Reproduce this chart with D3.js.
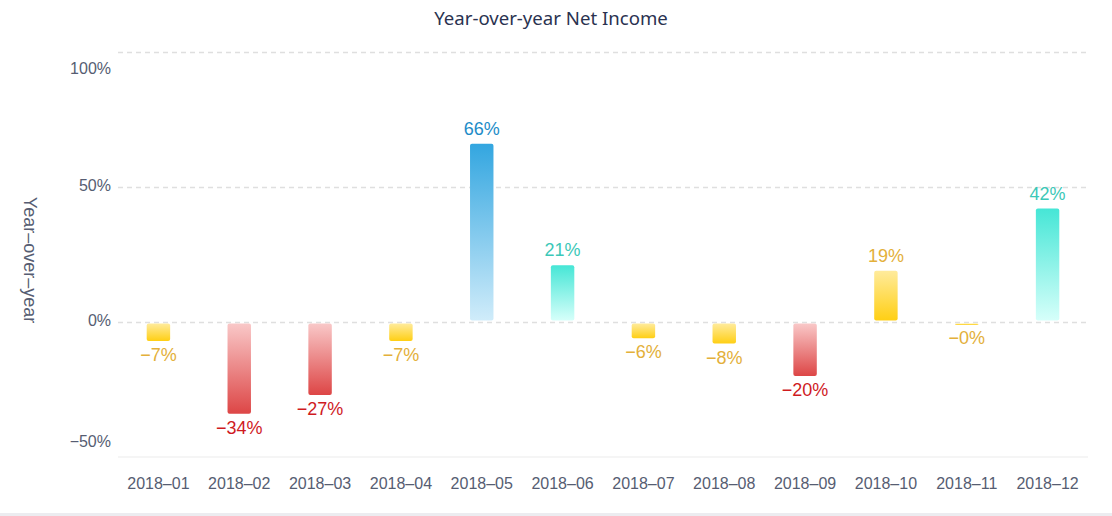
<!DOCTYPE html>
<html><head><meta charset="utf-8">
<script src="https://cdn.jsdelivr.net/npm/d3@7"></script>
<style>
html,body{margin:0;padding:0;background:#fff;}
svg{display:block;}
</style></head>
<body>
<svg id="chart" width="1112" height="516"></svg>
<script>
const months = ["2018–01","2018–02","2018–03","2018–04","2018–05","2018–06","2018–07","2018–08","2018–09","2018–10","2018–11","2018–12"];
const yoyValues = [-7,-34,-27,-7,66,21,-6,-8,-20,19,-0.4,42];
const yTicks = [-50,0,50,100];
const chartTitle = "Year-over-year Net Income";
const yTitle = "Year–over–year";

(function(){
const W=1112,H=516;
const svg=d3.select("#chart");
const pL=118,pR=1088,pT=52,pB=457;
const x=d3.scaleBand().domain(months).range([pL,pR]);
const y=d3.scaleLinear().domain([-50,100]).range([pB,pT]);
const FONT="'Liberation Sans', Arial, sans-serif";

const palettes={
  red:{top:"#f9c8c8",bot:"#dd4646",text:"#cf1b1f"},
  yellow:{top:"#ffeb9c",bot:"#ffcf14",text:"#e3b03a"},
  teal:{top:"#46e6d6",bot:"#d6fffa",text:"#3cc8b8"},
  blue:{top:"#33a6e0",bot:"#d0ecfa",text:"#1d8cc8"}
};
function kind(v){ if(v<-10) return "red"; if(v<20) return "yellow"; if(v<50) return "teal"; return "blue"; }

const defs=svg.append("defs");
Object.entries(palettes).forEach(([k,p])=>{
  const g=defs.append("linearGradient").attr("id","g-"+k).attr("x1",0).attr("y1",0).attr("x2",0).attr("y2",1);
  g.append("stop").attr("offset","0%").attr("stop-color",p.top);
  g.append("stop").attr("offset","100%").attr("stop-color",p.bot);
});

svg.append("rect").attr("x",0).attr("y",513).attr("width",W).attr("height",3).attr("fill","#ececf0");

svg.append("text").attr("x",551).attr("y",25).attr("text-anchor","middle")
  .attr("font-family","'Noto Sans'").attr("font-size",18.6).attr("fill","#2a3250").text(chartTitle);

yTicks.forEach(t=>{
  if(t===-50){
    svg.append("line").attr("x1",pL).attr("x2",pR).attr("y1",y(t)).attr("y2",y(t))
      .attr("stroke","#f2f2f2").attr("stroke-width",1.5);
  } else {
    svg.append("line").attr("x1",pL).attr("x2",pR).attr("y1",y(t)+0.5).attr("y2",y(t)+0.5)
      .attr("stroke","#dfdfdf").attr("stroke-width",1.3).attr("stroke-dasharray","5,4");
  }
});

yTicks.forEach(t=>{
  let yy=y(t), base="middle";
  if(t===100){ yy=y(t)+11; base="hanging"; }
  if(t===-50){ yy=y(t)-10; base="auto"; }
  svg.append("text").attr("x",111).attr("y",yy).attr("text-anchor","end")
    .attr("dominant-baseline",base)
    .attr("font-family",FONT).attr("font-size",16).attr("fill","#565d72")
    .text((t<0?"−":"")+Math.abs(t)+"%");
});

svg.append("text").attr("transform","translate(24,260) rotate(90)").attr("text-anchor","middle")
  .attr("font-family",FONT).attr("font-size",18).attr("fill","#565d72").text(yTitle);

months.forEach(m=>{
  svg.append("text").attr("x",x(m)+x.bandwidth()/2).attr("y",489).attr("text-anchor","middle")
    .attr("font-family",FONT).attr("font-size",16).attr("fill","#565d72").text(m);
});

const bw=x.bandwidth()*0.29;
const data=months.map((m,i)=>({m,v:yoyValues[i]}));
svg.selectAll("rect.bar").data(data).enter().append("rect").attr("class","bar")
  .attr("x",d=>x(d.m)+x.bandwidth()/2-bw/2)
  .attr("y",d=>Math.min(y(0),y(d.v))+(d.v>=0?0:1.5))
  .attr("width",bw)
  .attr("height",d=>Math.max(1.5,Math.abs(y(d.v)-y(0))-1.5))
  .attr("rx",2).attr("ry",2)
  .attr("fill",d=>"url(#g-"+kind(d.v)+")");

const fmt=v=>(v<0?"−":"")+Math.abs(Math.round(v))+"%";
svg.selectAll("text.val").data(data).enter().append("text").attr("class","val")
  .attr("x",d=>x(d.m)+x.bandwidth()/2)
  .attr("y",d=>d.v>=0? y(d.v)-9 : Math.max(y(d.v),y(0)+2)+20)
  .attr("text-anchor","middle")
  .attr("font-family",FONT).attr("font-size",18)
  .attr("fill",d=>palettes[kind(d.v)].text)
  .text(d=>fmt(d.v));
})();
</script>
</body></html>
